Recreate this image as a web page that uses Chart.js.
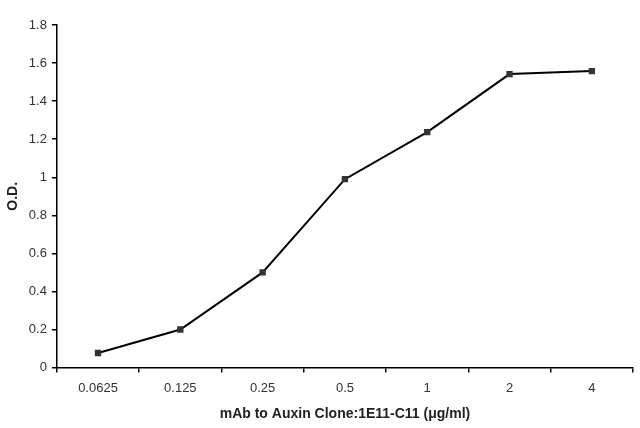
<!DOCTYPE html>
<html>
<head>
<meta charset="utf-8">
<script src="https://cdn.jsdelivr.net/npm/chart.js@4/dist/chart.umd.min.js"></script>
<style>
  html, body { margin: 0; padding: 0; background: #fff; }
  #wrap { width: 640px; height: 428px; position: relative; }
</style>
</head>
<body>
<div id="wrap"><canvas id="chartOD"></canvas></div>
<script>
// Concentración (µg/ml) y densidad óptica
const concentrations = ['0.0625', '0.125', '0.25', '0.5', '1', '2', '4'];
const odValues = [0.077, 0.20, 0.50, 0.99, 1.237, 1.542, 1.558];
const yTicks = [0, 0.2, 0.4, 0.6, 0.8, 1, 1.2, 1.4, 1.6, 1.8];

document.addEventListener("DOMContentLoaded", function () {
    const canvas = document.getElementById('chartOD');
    new Chart(canvas, {
        type: 'line',
        data: {
            labels: concentrations,
            datasets: [{
                data: odValues,
                borderColor: '#000',
                borderWidth: 2,
                pointStyle: 'rect',
                pointRadius: 4.5,
                pointBackgroundColor: '#333',
                pointBorderColor: '#333',
                pointBorderWidth: 0,
                tension: 0,
                fill: false
            }]
        },
        options: {
            responsive: true,
            maintainAspectRatio: false,
            animation: false,
            layout: { padding: { top: 25, right: 7, left: 3, bottom: 0 } },
            plugins: { legend: { display: false }, tooltip: { enabled: false } },
            scales: {
                x: {
                    type: 'category',
                    offset: true,
                    grid: { offset: true, drawOnChartArea: false, drawTicks: true, tickLength: 5, color: '#000', lineWidth: 1.5 },
                    border: { color: '#000', width: 1.5 },
                    ticks: { color: '#333', font: { family: 'Liberation Sans', size: 13 }, padding: 8 },
                    title: {
                        display: true,
                        text: 'mAb to Auxin Clone:1E11-C11 (μg/ml)',
                        color: '#222',
                        font: { family: 'Liberation Sans', size: 14, weight: 'bold' },
                        padding: { top: 2, bottom: 5 }
                    }
                },
                y: {
                    min: 0,
                    max: 1.8,
                    afterBuildTicks: axis => { axis.ticks = yTicks.map(v => ({ value: v })); },
                    grid: { drawOnChartArea: false, drawTicks: true, tickLength: 5, color: '#000', lineWidth: 1.5 },
                    border: { color: '#000', width: 1.5 },
                    ticks: {
                        color: '#333',
                        font: { family: 'Liberation Sans', size: 13 },
                        padding: 5,
                        callback: v => String(+Number(v).toFixed(1))
                    },
                    title: {
                        display: true,
                        text: 'O.D.',
                        color: '#222',
                        font: { family: 'Liberation Sans', size: 14, weight: 'bold' },
                        padding: { top: 2, bottom: 2 }
                    }
                }
            }
        }
    });
});
</script>
</body>
</html>
